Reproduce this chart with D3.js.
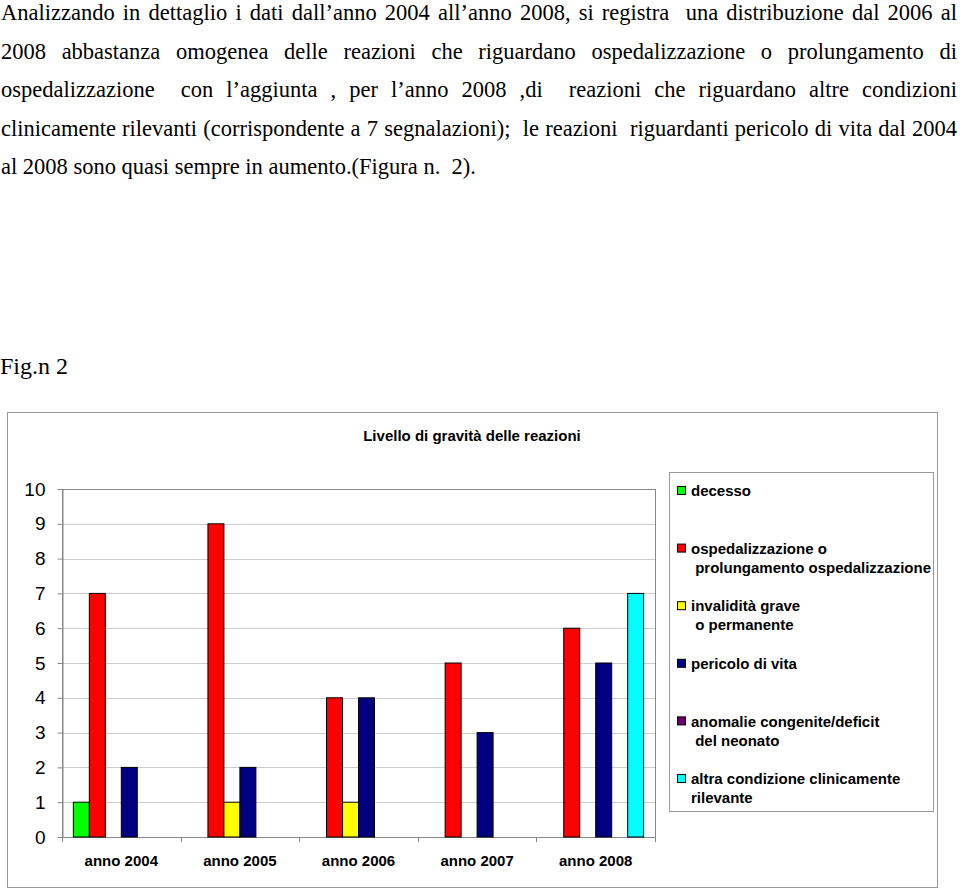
<!DOCTYPE html>
<html>
<head>
<meta charset="utf-8">
<script src="https://cdn.jsdelivr.net/npm/d3@7"></script>
<style>
body { margin: 0; background: #fff; }
</style>
</head>
<body>
<div id="chart"></div>
<script>
var paragraph = [
    "Analizzando in dettaglio i dati dall\u2019anno 2004 all\u2019anno 2008, si registra  una distribuzione dal 2006 al",
    "2008 abbastanza omogenea delle reazioni che riguardano ospedalizzazione o prolungamento di",
    "ospedalizzazione  con l\u2019aggiunta , per l\u2019anno 2008 ,di  reazioni che riguardano altre condizioni",
    "clinicamente rilevanti (corrispondente a 7 segnalazioni);  le reazioni  riguardanti pericolo di vita dal 2004",
    "al 2008 sono quasi sempre in aumento.(Figura n.  2)."
];
var figLabel = "Fig.n 2";
var chartTitle = "Livello di gravit\u00e0 delle reazioni";

var categories = ["anno 2004", "anno 2005", "anno 2006", "anno 2007", "anno 2008"];
var seriesNames = ["decesso", "ospedalizzazione", "invalidita", "pericolo", "anomalie", "altra"];
var legendLabels = [
    ["decesso"],
    ["ospedalizzazione o", " prolungamento ospedalizzazione"],
    ["invalidit\u00e0 grave", " o permanente"],
    ["pericolo di vita"],
    ["anomalie congenite/deficit", " del neonato"],
    ["altra condizione clinicamente", "rilevante"]
];
var seriesColors = ["#00ff00", "#ff0000", "#ffff00", "#000080", "#660066", "#00ffff"];

var decesso = [1, 0, 0, 0, 0];
var ospedalizzazione = [7, 9, 4, 5, 6];
var invalidita = [0, 1, 1, 0, 0];
var pericolo = [2, 2, 4, 3, 5];
var anomalie = [0, 0, 0, 0, 0];
var altra = [0, 0, 0, 0, 7];
var yTicks = [0, 1, 2, 3, 4, 5, 6, 7, 8, 9, 10];

var values = [decesso, ospedalizzazione, invalidita, pericolo, anomalie, altra];

var svg = d3.select("#chart").append("svg")
    .attr("width", 960).attr("height", 890);

// paragraph text, justified line by line
var para = svg.append("g").attr("font-family", "'Liberation Serif', 'Times New Roman', serif")
    .attr("font-size", 22.5);
paragraph.forEach(function(line, i) {
    var t = para.append("text")
        .attr("x", 1).attr("y", 20 + i * 38.6)
        .style("white-space", "pre")
        .text(line);
    if (i < paragraph.length - 1) {
        var w = t.node().getComputedTextLength();
        var n = line.split(" ").length - 1;
        t.style("word-spacing", ((956 - w) / n) + "px");
    }
});
para.append("text").attr("x", 0).attr("y", 374).attr("font-size", 24).text(figLabel);

// chart frame
svg.append("rect").attr("x", 7.5).attr("y", 412.5).attr("width", 930).attr("height", 475)
    .attr("fill", "none").attr("stroke", "#999");

svg.append("text").attr("x", 472).attr("y", 441)
    .attr("text-anchor", "middle")
    .attr("font-family", "'Liberation Sans', Arial, sans-serif")
    .attr("font-weight", "bold").attr("font-size", 15)
    .text(chartTitle);

var margin = { left: 62, right: 655, top: 489, bottom: 837 };

var x0 = d3.scaleBand().domain(categories).range([margin.left, margin.right]);
var x1 = d3.scaleBand().domain(seriesNames).range([0, x0.bandwidth()]).paddingOuter(0.71);
var y = d3.scaleLinear().domain([0, 10]).range([margin.bottom, margin.top]);

// gridlines
svg.append("g").selectAll("line").data(yTicks.filter(function(d) { return d > 0 && d < 10; }))
    .enter().append("line")
    .attr("x1", margin.left).attr("x2", margin.right)
    .attr("y1", function(d) { return Math.round(y(d)) + 0.5; })
    .attr("y2", function(d) { return Math.round(y(d)) + 0.5; })
    .attr("stroke", "#cccccc");

// plot border
svg.append("rect").attr("x", margin.left + 0.5).attr("y", margin.top + 0.5)
    .attr("width", margin.right - margin.left).attr("height", margin.bottom - margin.top)
    .attr("fill", "none").attr("stroke", "#888");

// bars
var groups = svg.append("g").selectAll("g").data(categories).enter().append("g")
    .attr("transform", function(d) { return "translate(" + x0(d) + ",0)"; });

groups.selectAll("rect")
    .data(function(d, ci) {
        return seriesNames.map(function(s, si) { return { s: s, si: si, v: values[si][ci] }; })
            .filter(function(e) { return e.v > 0; });
    })
    .enter().append("rect")
    .attr("x", function(d) { return x1(d.s); })
    .attr("width", x1.bandwidth())
    .attr("y", function(d) { return y(d.v); })
    .attr("height", function(d) { return y(0) - y(d.v); })
    .attr("fill", function(d) { return seriesColors[d.si]; })
    .attr("stroke", "#000").attr("stroke-width", 1);

// y axis
var yAxis = svg.append("g").attr("transform", "translate(" + (margin.left + 0.5) + ",0)")
    .call(d3.axisLeft(y).tickValues(yTicks).tickSizeOuter(0).tickSizeInner(5).tickPadding(12));
yAxis.selectAll("line, path").attr("stroke", "#888");
yAxis.selectAll("text").attr("font-family", "'Liberation Sans', Arial, sans-serif")
    .attr("font-size", 19).attr("fill", "#000");

// x axis: ticks between categories
var bounds = categories.map(function(c) { return x0(c); }).concat([margin.right]);
svg.append("g").selectAll("line").data(bounds).enter().append("line")
    .attr("x1", function(d) { return Math.round(d) + 0.5; })
    .attr("x2", function(d) { return Math.round(d) + 0.5; })
    .attr("y1", margin.bottom).attr("y2", margin.bottom + 5)
    .attr("stroke", "#888");
svg.append("g").selectAll("text").data(categories).enter().append("text")
    .attr("x", function(d) { return x0(d) + x0.bandwidth() / 2; })
    .attr("y", 866)
    .attr("text-anchor", "middle")
    .attr("font-family", "'Liberation Sans', Arial, sans-serif")
    .attr("font-weight", "bold").attr("font-size", 15)
    .text(function(d) { return d; });

// legend
svg.append("rect").attr("x", 669.5).attr("y", 472.5).attr("width", 264).attr("height", 339)
    .attr("fill", "#fff").attr("stroke", "#999");
var leg = svg.append("g").selectAll("g").data(legendLabels).enter().append("g")
    .attr("transform", function(d, i) { return "translate(0," + (491 + i * 57.6) + ")"; });
leg.append("rect").attr("x", 677.5).attr("y", -4.5).attr("width", 8).attr("height", 8)
    .attr("fill", function(d, i) { return seriesColors[i]; })
    .attr("stroke", "#000");
leg.selectAll("text").data(function(d) { return d; }).enter().append("text")
    .attr("x", 691).attr("y", function(d, j) { return j * 19; })
    .attr("dy", "0.35em")
    .style("white-space", "pre")
    .attr("font-family", "'Liberation Sans', Arial, sans-serif")
    .attr("font-weight", "bold").attr("font-size", 15)
    .text(function(d) { return d; });
</script>
</body>
</html>
